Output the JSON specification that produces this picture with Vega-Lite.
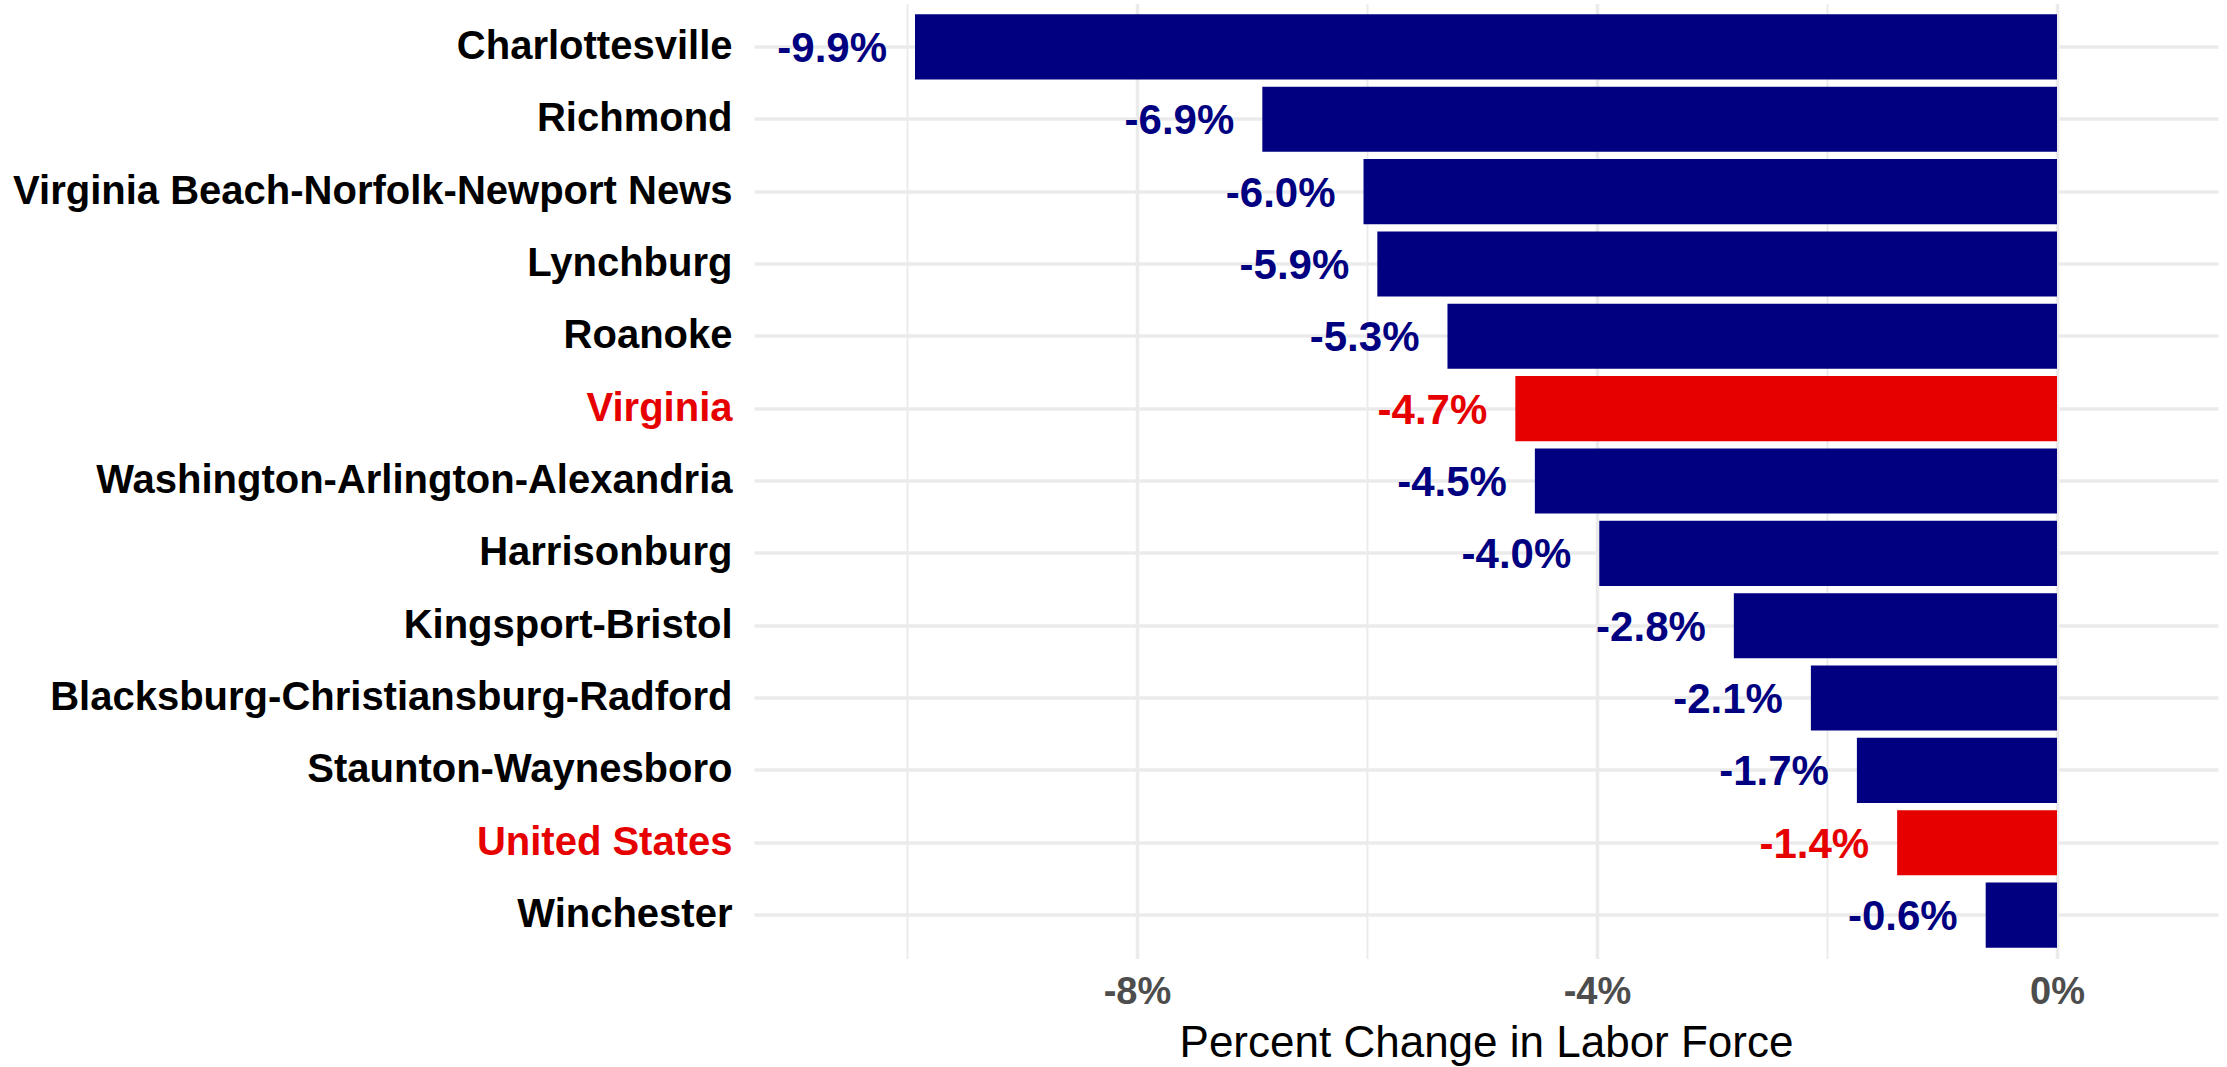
{
  "$schema": "https://vega.github.io/schema/vega-lite/v6.json",
  "autosize": "none",
  "width": 1464,
  "height": 955,
  "padding": {"left": 754, "top": 3.5, "right": 9, "bottom": 108.5},
  "background": "white",
  "config": {
    "view": {"stroke": null},
    "font": "Liberation Sans"
  },
  "data": {
    "values": [
      {"area": "Charlottesville", "change": -9.93, "label": "-9.9%", "group": "metro"},
      {"area": "Richmond", "change": -6.91, "label": "-6.9%", "group": "metro"},
      {"area": "Virginia Beach-Norfolk-Newport News", "change": -6.03, "label": "-6.0%", "group": "metro"},
      {"area": "Lynchburg", "change": -5.91, "label": "-5.9%", "group": "metro"},
      {"area": "Roanoke", "change": -5.3, "label": "-5.3%", "group": "metro"},
      {"area": "Virginia", "change": -4.71, "label": "-4.7%", "group": "benchmark"},
      {"area": "Washington-Arlington-Alexandria", "change": -4.54, "label": "-4.5%", "group": "metro"},
      {"area": "Harrisonburg", "change": -3.98, "label": "-4.0%", "group": "metro"},
      {"area": "Kingsport-Bristol", "change": -2.81, "label": "-2.8%", "group": "metro"},
      {"area": "Blacksburg-Christiansburg-Radford", "change": -2.14, "label": "-2.1%", "group": "metro"},
      {"area": "Staunton-Waynesboro", "change": -1.74, "label": "-1.7%", "group": "metro"},
      {"area": "United States", "change": -1.39, "label": "-1.4%", "group": "benchmark"},
      {"area": "Winchester", "change": -0.62, "label": "-0.6%", "group": "metro"}
    ]
  },
  "encoding": {
    "y": {
      "field": "area",
      "type": "nominal",
      "sort": null,
      "scale": {"paddingInner": 0.1, "paddingOuter": 0.15},
      "axis": {
        "title": null,
        "domain": false,
        "ticks": false,
        "grid": true,
        "gridColor": "#EBEBEB",
        "gridWidth": 3.5,
        "labelFont": "Liberation Sans",
        "labelFontSize": 40,
        "labelFontWeight": "bold",
        "labelPadding": 22,
        "labelLimit": 800,
        "labelColor": {
          "condition": {"test": "datum.value === 'Virginia' || datum.value === 'United States'", "value": "#E60000"},
          "value": "#000000"
        }
      }
    },
    "x": {
      "field": "change",
      "type": "quantitative",
      "scale": {"domain": [-11.33, 1.4], "nice": false, "zero": false},
      "axis": {
        "title": "Percent Change in Labor Force",
        "titleFont": "Liberation Sans",
        "titleFontSize": 44,
        "titleFontWeight": "normal",
        "titleColor": "#000000",
        "titlePadding": 10,
        "values": [-10, -8, -6, -4, -2, 0],
        "labelExpr": "datum.value % 4 === 0 ? datum.value + '%' : ''",
        "domain": false,
        "ticks": false,
        "grid": true,
        "gridColor": "#EBEBEB",
        "gridWidth": {"condition": {"test": "datum.value % 4 === 0", "value": 3.5}, "value": 2},
        "labelFont": "Liberation Sans",
        "labelFontSize": 38,
        "labelFontWeight": "bold",
        "labelColor": "#4D4D4D",
        "labelPadding": 15
      }
    },
    "color": {
      "field": "group",
      "type": "nominal",
      "scale": {"domain": ["metro", "benchmark"], "range": ["#000080", "#E60000"]},
      "legend": null
    }
  },
  "layer": [
    {"mark": {"type": "bar"}},
    {
      "mark": {"type": "text", "align": "right", "baseline": "middle", "dx": -28, "dy": 2, "fontSize": 42, "fontWeight": "bold", "font": "Liberation Sans"},
      "encoding": {"text": {"field": "label"}}
    }
  ]
}
